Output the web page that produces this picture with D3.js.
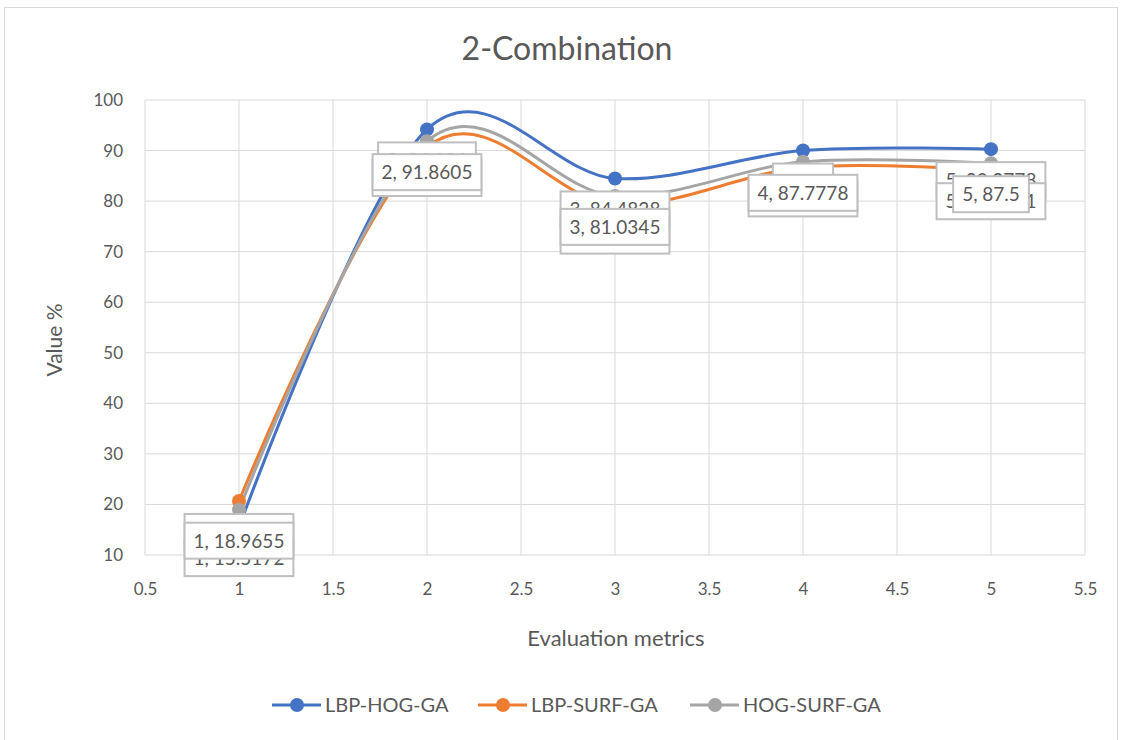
<!DOCTYPE html>
<html><head><meta charset="utf-8">
<script src="https://cdn.jsdelivr.net/npm/d3@7"></script>
<style>body{margin:0;background:#fff;} text{font-family:"Lato","Open Sans",sans-serif;}</style>
</head><body>
<svg id="c" width="1122" height="740"></svg>
<script>
const xValues = [1, 2, 3, 4, 5];
const seriesNames = ["LBP-HOG-GA", "LBP-SURF-GA", "HOG-SURF-GA"];
const lbpHog = [15.5172, 94.186, 84.4828, 90, 90.2778];
const lbpSurf = [20.6897, 90.6977, 79.3103, 86.6667, 86.1111];
const hogSurf = [18.9655, 91.8605, 81.0345, 87.7778, 87.5];
const colors = ["#4472C4", "#ED7D31", "#A5A5A5"];
const xTicks = [0.5, 1, 1.5, 2, 2.5, 3, 3.5, 4, 4.5, 5, 5.5];
const yTicks = [10, 20, 30, 40, 50, 60, 70, 80, 90, 100];
const allSeries = [lbpHog, lbpSurf, hogSurf];

const svg = d3.select("#c");
const ink = "#595959";
svg.append("rect").attr("x", 4.5).attr("y", 7.5).attr("width", 1113).attr("height", 740)
  .attr("fill", "#fff").attr("stroke", "#d9d9d9");

const x = d3.scaleLinear().domain([0.5, 5.5]).range([145, 1085]);
const y = d3.scaleLinear().domain([10, 100]).range([555, 100]);

// gridlines
svg.append("g").selectAll("line").data(yTicks).join("line")
  .attr("x1", x(0.5)).attr("x2", x(5.5)).attr("y1", d => y(d)).attr("y2", d => y(d))
  .attr("stroke", "#d9d9d9").attr("stroke-width", 1);
svg.append("g").selectAll("line").data(xTicks).join("line")
  .attr("y1", y(10)).attr("y2", y(100)).attr("x1", d => x(d)).attr("x2", d => x(d))
  .attr("stroke", "#d9d9d9").attr("stroke-width", 1);

// axes
const ya = svg.append("g").attr("transform", `translate(${x(0.5)},0)`)
  .call(d3.axisLeft(y).tickValues(yTicks).tickSize(0).tickPadding(22).tickFormat(d3.format("d")));
ya.select(".domain").remove();
ya.selectAll("text").attr("fill", ink).style("font-size", "17px");
const xa = svg.append("g").attr("transform", `translate(0,${y(10)})`)
  .call(d3.axisBottom(x).tickValues(xTicks).tickSize(0).tickPadding(28).tickFormat(d => d));
xa.select(".domain").remove();
xa.selectAll("text").attr("fill", ink).style("font-size", "17px");

// titles
svg.append("text").attr("x", 567).attr("y", 60).attr("text-anchor", "middle")
  .attr("fill", ink).style("font-size", "32px").text("2-Combination");
svg.append("text").attr("transform", "translate(62,340) rotate(-90)").attr("text-anchor", "middle")
  .attr("fill", ink).style("font-size", "21px").text("Value %");
svg.append("text").attr("x", 616).attr("y", 646).attr("text-anchor", "middle")
  .attr("fill", ink).style("font-size", "22px").text("Evaluation metrics");

// lines
const line = d3.line().x((d, i) => x(xValues[i])).y(d => y(d)).curve(d3.curveCardinal.tension(0));
allSeries.forEach((s, k) => {
  svg.append("path").datum(s).attr("d", line).attr("fill", "none")
    .attr("stroke", colors[k]).attr("stroke-width", 3).attr("stroke-linecap", "round");
});
allSeries.forEach((s, k) => {
  svg.append("g").selectAll("circle").data(s).join("circle")
    .attr("cx", (d, i) => x(xValues[i])).attr("cy", d => y(d)).attr("r", 7).attr("fill", colors[k]);
});

// data labels
allSeries.forEach((s, k) => {
  s.forEach((v, i) => {
    const g = svg.append("g");
    const label = xValues[i] + ", " + v;
    const cx = x(xValues[i]), top = y(v) + 13;
    const t = g.append("text").attr("x", cx).attr("y", top + 25).attr("text-anchor", "middle")
      .attr("fill", ink).style("font-size", "19px").text(label);
    const w = t.node().getComputedTextLength() + 18;
    g.insert("rect", "text").attr("x", cx - w / 2).attr("y", top).attr("width", w).attr("height", 36)
      .attr("fill", "#fff").attr("stroke", "#bfbfbf").attr("stroke-width", 2);
  });
});

// legend
const legendX = [272, 478, 690];
seriesNames.forEach((n, k) => {
  const lx = legendX[k], ly = 705;
  svg.append("line").attr("x1", lx).attr("x2", lx + 49).attr("y1", ly).attr("y2", ly)
    .attr("stroke", colors[k]).attr("stroke-width", 3);
  svg.append("circle").attr("cx", lx + 25).attr("cy", ly).attr("r", 7).attr("fill", colors[k]);
  svg.append("text").attr("x", lx + 53).attr("y", ly + 7).attr("fill", ink)
    .style("font-size", "20px").text(n);
});
</script>
</body></html>
